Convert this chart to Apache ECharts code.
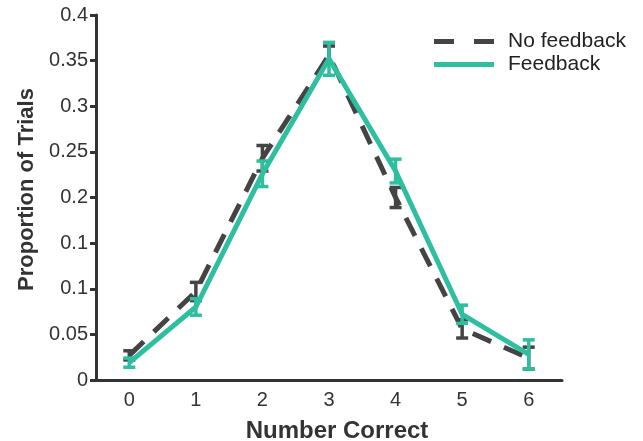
<!DOCTYPE html>
<html>
<head>
<meta charset="utf-8">
<script src="https://cdn.jsdelivr.net/npm/echarts@6/dist/echarts.min.js"></script>
<style>html,body{margin:0;padding:0;background:#fff}#c{width:643px;height:441px}</style>
</head>
<body>
<div id="c"></div>
<script>
var categories = ['0','1','2','3','4','5','6'];
var noFeedback = [0.027, 0.097, 0.243, 0.356, 0.200, 0.056, 0.024];
var noFeedbackErr = [0.005, 0.010, 0.014, 0.010, 0.011, 0.010, 0.012];
var feedback = [0.019, 0.080, 0.226, 0.352, 0.229, 0.072, 0.028];
var feedbackErr = [0.005, 0.009, 0.014, 0.018, 0.013, 0.010, 0.016];
var yTickLabels = ['0','0.05','0.1','0.1','0.2','0.25','0.3','0.35','0.4'];

var dark = '#444444';
var teal = '#2dbf9f';
var font = 'Liberation Sans, Arial, Helvetica, sans-serif';

function errData(vals, errs) {
  return vals.map(function (v, i) { return [i, v - errs[i], v + errs[i]]; });
}
function errRender(color) {
  return function (params, api) {
    var x = api.value(0);
    var lo = api.coord([x, api.value(1)]);
    var hi = api.coord([x, api.value(2)]);
    var hw = 6;
    var st = { stroke: color, lineWidth: 3.5 };
    return {
      type: 'group',
      children: [
        { type: 'line', shape: { x1: lo[0], y1: lo[1], x2: hi[0], y2: hi[1] }, style: st },
        { type: 'line', shape: { x1: lo[0] - hw, y1: lo[1], x2: lo[0] + hw, y2: lo[1] }, style: st },
        { type: 'line', shape: { x1: hi[0] - hw, y1: hi[1], x2: hi[0] + hw, y2: hi[1] }, style: st }
      ]
    };
  };
}

var chart = echarts.init(document.getElementById('c'));
chart.setOption({
  animation: false,
  backgroundColor: '#fff',
  grid: { left: 96, top: 15, width: 466, height: 365, containLabel: false, outerBoundsMode: 'none' },
  legend: [
    {
      left: 434, top: 25.5, itemWidth: 60, itemHeight: 5, symbolKeepAspect: false, padding: 0,
      textStyle: { fontFamily: font, fontSize: 21, color: '#222', padding: [0, 0, 12, 9], lineHeight: 20 },
      data: [{ name: 'No feedback', icon: 'path://M0,0H20V5H0Z M40,0H60V5H40Z', itemStyle: { color: dark } }]
    },
    {
      left: 434, top: 52, itemWidth: 60, itemHeight: 5, symbolKeepAspect: false, padding: 0,
      textStyle: { fontFamily: font, fontSize: 21, color: '#222', padding: [5, 0, 0, 9], lineHeight: 20 },
      data: [{ name: 'Feedback', icon: 'rect', itemStyle: { color: teal } }]
    }
  ],
  xAxis: {
    type: 'category', data: categories, boundaryGap: true,
    name: 'Number Correct', nameLocation: 'middle', nameGap: 39,
    nameTextStyle: { fontFamily: font, fontSize: 24, fontWeight: 'bold', color: '#333', padding: [0, 0, 0, 16] },
    axisLine: { lineStyle: { color: '#333', width: 3 } },
    axisTick: { alignWithLabel: true, length: 6, lineStyle: { color: '#333', width: 3 } },
    axisLabel: { fontFamily: font, fontSize: 20, color: '#333', margin: 10 },
    splitLine: { show: false }
  },
  yAxis: {
    type: 'value', min: 0, max: 0.4, interval: 0.05,
    name: 'Proportion of Trials', nameLocation: 'middle', nameGap: 50, nameRotate: 90,
    nameTextStyle: { fontFamily: font, fontSize: 22, fontWeight: 'bold', color: '#333', padding: [0, 0, 0, 16] },
    axisLine: { show: true, lineStyle: { color: '#333', width: 3 } },
    axisTick: { show: true, length: 6, lineStyle: { color: '#333', width: 3 } },
    axisLabel: {
      fontFamily: font, fontSize: 20, color: '#333', margin: 8,
      formatter: function (v) { return yTickLabels[Math.round(v / 0.05)]; }
    },
    splitLine: { show: false }
  },
  series: [
    {
      name: 'No feedback', type: 'line', data: noFeedback, symbol: 'none', z: 2,
      lineStyle: { color: dark, width: 5, type: [20, 14] }, itemStyle: { color: dark }
    },
    {
      name: 'nfErr', type: 'custom', data: errData(noFeedback, noFeedbackErr), z: 3,
      renderItem: errRender(dark), encode: { x: 0, y: [1, 2] }
    },
    {
      name: 'Feedback', type: 'line', data: feedback, symbol: 'none', z: 4,
      lineStyle: { color: teal, width: 5 }, itemStyle: { color: teal }
    },
    {
      name: 'fErr', type: 'custom', data: errData(feedback, feedbackErr), z: 5,
      renderItem: errRender(teal), encode: { x: 0, y: [1, 2] }
    }
  ]
});
</script>
</body>
</html>
